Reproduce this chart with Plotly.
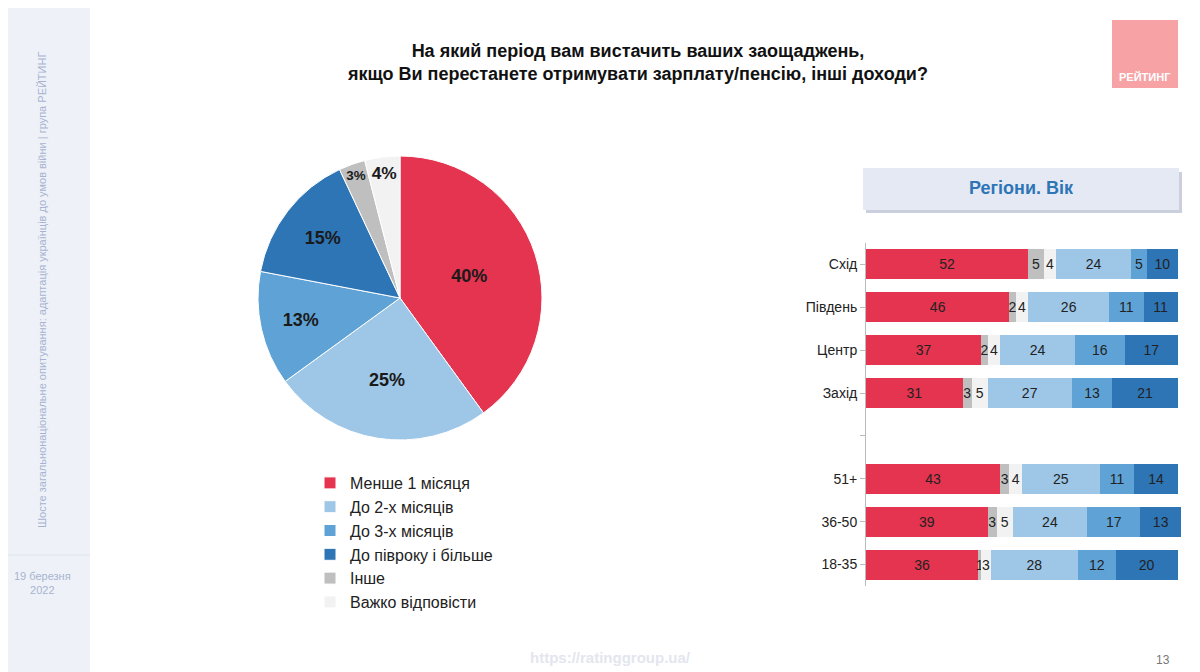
import plotly.graph_objects as go

pie_labels = ["Менше 1 місяця", "До 2-х місяців", "До 3-х місяців", "До півроку і більше", "Інше", "Важко відповісти"]
pie_values = [40, 25, 13, 15, 3, 4]
colors = ["#e4344f", "#9dc6e7", "#5fa2d6", "#2e75b6", "#bfbfbf", "#f2f2f2"]

rows = ["Схід", "Південь", "Центр", "Захід", " ", "51+", "36-50", "18-35"]
less1 = [52, 46, 37, 31, None, 43, 39, 36]
other = [5, 2, 2, 3, None, 3, 3, 1]
hard = [4, 4, 4, 5, None, 4, 5, 3]
m2 = [24, 26, 24, 27, None, 25, 24, 28]
m3 = [5, 11, 16, 13, None, 11, 17, 12]
m6 = [10, 11, 17, 21, None, 14, 13, 20]
bar_series = [(less1, colors[0]), (other, colors[4]), (hard, colors[5]), (m2, colors[1]), (m3, colors[2]), (m6, colors[3])]

W, H, OFF = 1192, 664, 8
def px(x):
    return (x - OFF) / W
def py(y):
    return 1 - (y - OFF) / H

fig = go.Figure()
fig.add_trace(go.Pie(
    labels=pie_labels, values=pie_values, sort=False, direction="clockwise", rotation=0,
    marker=dict(colors=colors, line=dict(color="white", width=1)),
    texttemplate="<b>%{value}%</b>", textposition="inside", insidetextorientation="horizontal",
    textfont=dict(size=18, color="#1a1a1a"),
    domain=dict(x=[px(258), px(542)], y=[py(440), py(156)]), showlegend=True, hoverinfo="skip"))

for vals, c in bar_series:
    fig.add_trace(go.Bar(
        y=rows, x=vals, orientation="h", marker=dict(color=c, line=dict(width=0)),
        text=vals, textposition="inside", insidetextanchor="middle", constraintext="none",
        textfont=dict(size=14, color="#222"), showlegend=False, width=0.7, cliponaxis=False))

def ann(text, x, y, size, color, **kw):
    return dict(text=text, xref="paper", yref="paper", x=px(x), y=py(y), showarrow=False,
                xanchor="center", yanchor="middle", font=dict(size=size, color=color), **kw)

fig.update_layout(
    width=W, height=H, margin=dict(l=0, r=0, t=0, b=0),
    paper_bgcolor="white", plot_bgcolor="white", barmode="stack",
    font=dict(family="Liberation Sans", color="#222"),
    xaxis=dict(domain=[px(866), px(1181)], range=[0, 101], visible=False),
    yaxis=dict(domain=[py(586), py(243)], autorange="reversed", showline=True, linecolor="#bbb",
               ticks="outside", tickcolor="#bbb", ticklen=5, tickfont=dict(size=14, color="#222"),
               showgrid=False, zeroline=False),
    legend=dict(x=px(310), y=py(466), xanchor="left", yanchor="top", font=dict(size=16, color="#222"),
                traceorder="normal", itemwidth=30, tracegroupgap=0, bgcolor="rgba(0,0,0,0)"),
    title=dict(text="<b>На який період вам вистачить ваших заощаджень,<br>якщо Ви перестанете отримувати зарплату/пенсію, інші доходи?</b>",
               x=px(638), y=py(57), xanchor="center", yanchor="middle", font=dict(size=18, color="#111")),
    shapes=[
        dict(type="rect", xref="paper", yref="paper", x0=0, x1=px(90), y0=0, y1=1, fillcolor="#eef2f8", line=dict(width=0), layer="below"),
        dict(type="line", xref="paper", yref="paper", x0=0, x1=px(90), y0=py(555), y1=py(555), line=dict(color="#dfe4ec", width=1)),
        dict(type="rect", xref="paper", yref="paper", x0=px(1112), x1=px(1178), y0=py(88), y1=py(20), fillcolor="#f7a3a6", line=dict(width=0)),
        dict(type="rect", xref="paper", yref="paper", x0=px(866), x1=px(1182), y0=py(213), y1=py(172), fillcolor="#c9cfdc", line=dict(width=0), layer="below"),
        dict(type="rect", xref="paper", yref="paper", x0=px(863), x1=px(1179), y0=py(210), y1=py(168), fillcolor="#e4e9f4", line=dict(width=0), layer="below"),
    ],
    annotations=[
        ann("<b>Регіони. Вік</b>", 1021, 188, 18, "#2e75b6"),
        ann("<b>РЕЙТИНГ</b>", 1145, 77, 11, "white"),
        ann("Шосте загальнонаціональне опитування: адаптація українців до умов війни | група РЕЙТИНГ",
            42, 290, 11, "#a8b2d0", textangle=-90),
        ann("19 березня<br>2022", 42, 583, 11, "#a8b2d0"),
        ann("<b>https://ratinggroup.ua/</b>", 610, 657, 15, "#e3e6ee"),
        ann("13", 1163, 660, 12, "#777"),
    ],
)
fig.write_html("out.html")
